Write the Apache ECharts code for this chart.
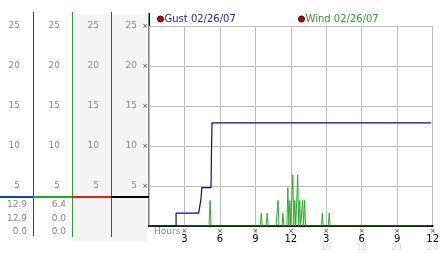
<!DOCTYPE html>
<html><head><meta charset="utf-8">
<script src="https://cdn.jsdelivr.net/npm/echarts@6/dist/echarts.min.js"></script>
<style>html,body{margin:0;padding:0;background:#fff}#c{width:442px;height:253px}</style>
</head><body><div id="c"></div>
<script>
const gustName = 'Gust 02/26/07';
const windName = 'Wind 02/26/07';
const gustHours  = [0, 2.29, 2.29, 4.2, 4.4, 4.47, 4.47, 5.25, 5.28, 5.33, 23.85];
const gustValues = [0, 0,    1.6,  1.6, 3.4, 3.4,  4.8,  4.8,  8.7,  12.9, 12.9];
const windHours  = [0, 5.083, 5.167, 5.25, 9.417, 9.5, 9.583, 9.917, 10.0, 10.083,
  10.75, 10.833, 10.917, 11.0, 11.25, 11.333, 11.417, 11.667, 11.75, 11.833, 11.917, 12.0,
  12.083, 12.167, 12.25, 12.333, 12.417, 12.5, 12.583, 12.667, 12.75, 12.833, 12.917, 13.0,
  13.083, 13.167, 13.25, 14.583, 14.667, 14.75, 15.167, 15.25, 15.333, 23.9];
const windValues = [0, 0, 3.2, 0, 0, 1.6, 0, 0, 1.6, 0,
  0, 1.6, 3.2, 0, 0, 1.6, 0, 0, 4.8, 0, 3.2, 0,
  0, 6.4, 0, 3.2, 0, 0, 6.4, 0, 3.2, 0, 0, 3.2,
  0, 3.2, 0, 0, 1.6, 0, 0, 1.6, 0, 0];
const yTicks = [0, 5, 10, 15, 20, 25];
const xTicks = [0, 3, 6, 9, 12, 15, 18, 21, 24];
const gustStats = ['12.9', '12.9', '0.0'];
const windStats = ['6.4', '0.0', '0.0'];
const xAxisName = 'Hours';

const FONT = 'DejaVu Sans';
const chart = echarts.init(document.getElementById('c'), null, {renderer: 'canvas'});

const colAxis = (offset, margin) => ({
  type: 'value', position: 'left', offset: offset,
  min: yTicks[0], max: yTicks[yTicks.length - 1], interval: yTicks[1] - yTicks[0],
  axisLine: {show: false}, axisTick: {show: false}, splitLine: {show: false},
  axisLabel: {margin: margin, color: '#8a8a8a', fontSize: 9, fontFamily: FONT,
    formatter: v => v === 0 ? '' : String(v)}
});

const statText = (arr, right) => arr.map((s, i) => ({
  type: 'text', style: {text: s, x: right, y: 205 + i * 13.5, textAlign: 'right',
    textVerticalAlign: 'middle', fill: '#8a8a8a', font: '9px "DejaVu Sans"'}
}));

const vline = (x, y1, y2, color, w) => ({type: 'rect', shape: {x: x, y: y1, width: w, height: y2 - y1},
  style: {fill: color}});
const hbar = (x1, x2, color) => ({type: 'rect', shape: {x: x1, y: 196, width: x2 - x1, height: 2},
  style: {fill: color}});

const option = {
  animation: false,
  textStyle: {fontFamily: FONT},
  grid: {left: 149, top: 26, width: 290, height: 200, containLabel: false},
  legend: [
    {data: [gustName], left: 157, top: 14, icon: 'circle', itemWidth: 6, itemHeight: 6, padding: 0,
     itemStyle: {color: '#cc0000', borderColor: '#3a0000', borderWidth: 1},
     textStyle: {color: '#1e1e96', fontSize: 10, fontFamily: FONT, padding: [0, 0, 0, -4]}},
    {data: [windName], left: 298, top: 14, icon: 'circle', itemWidth: 6, itemHeight: 6, padding: 0,
     itemStyle: {color: '#cc0000', borderColor: '#3a0000', borderWidth: 1},
     textStyle: {color: '#2a9a2a', fontSize: 10, fontFamily: FONT, padding: [0, 0, 0, -4]}}
  ],
  xAxis: {
    type: 'value', min: xTicks[0], max: xTicks[xTicks.length - 1], interval: xTicks[1] - xTicks[0],
    axisLine: {show: true, lineStyle: {color: '#000', width: 2}},
    axisTick: {show: false},
    splitLine: {show: true, lineStyle: {color: '#bdbdbd', width: 1}},
    axisLabel: {
      margin: 1, showMaxLabel: true, hideOverlap: false,
      formatter: v => {
        if (v === 0) return '';
        const h = v > 12 ? v - 12 : v;
        return '{m|×}\n{n|' + h + '}' + (v > 12 ? '\n{f|' + v + '}' : '');
      },
      rich: {
        m: {fontSize: 7, lineHeight: 8, color: '#333', fontFamily: FONT},
        n: {fontSize: 10, lineHeight: 9, color: '#000', fontFamily: FONT},
        f: {fontSize: 9, lineHeight: 8, color: '#dadada', fontFamily: FONT}
      }
    }
  },
  yAxis: [
    {type: 'value', position: 'left', offset: 0,
     min: yTicks[0], max: yTicks[yTicks.length - 1], interval: yTicks[1] - yTicks[0],
     axisLine: {show: false}, axisTick: {show: false},
     splitLine: {show: true, lineStyle: {color: '#bdbdbd', width: 1}},
     axisLabel: {margin: 1, fontSize: 7, color: '#333', formatter: v => v === 0 ? '' : '×'}},
    colAxis(116, 13), colAxis(77, 12), colAxis(38, 12), colAxis(0, 12)
  ],
  graphic: {
    type: 'group', z: 0, children: [
      {type: 'rect', shape: {x: 73, y: 15, width: 74, height: 226}, style: {fill: '#f4f4f4'}},
      vline(33, 12, 236, '#1a44c0', 1),
      vline(72, 12, 237, '#2ea02e', 1),
      vline(111, 12, 237, '#c02020', 1),
      vline(148.5, 13, 227, '#000', 1.5),
      hbar(0, 33, '#1040c8'), hbar(33, 72, '#22a822'), hbar(72, 111, '#d82020'), hbar(111, 149, '#000'),
      ...statText(gustStats, 27),
      ...statText(windStats, 66),
      {type: 'text', style: {text: xAxisName, x: 154, y: 231.5, textVerticalAlign: 'middle',
        fill: '#8a8a8a', font: '9px "DejaVu Sans"'}}
    ]
  },
  series: [
    {name: windName, type: 'line', showSymbol: false, z: 3,
     lineStyle: {color: '#2eaa2e', width: 1}, itemStyle: {color: '#2eaa2e'},
     data: windHours.map((h, i) => [h, windValues[i]])},
    {name: gustName, type: 'line', showSymbol: false, z: 4,
     lineStyle: {color: '#0a0a8c', width: 1.2}, itemStyle: {color: '#0a0a8c'},
     data: gustHours.map((h, i) => [h, gustValues[i]])}
  ]
};
chart.setOption(option);
</script>
</body></html>
